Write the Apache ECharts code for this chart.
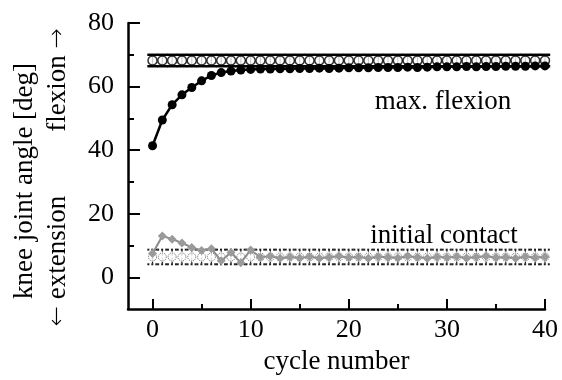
<!DOCTYPE html>
<html>
<head>
<meta charset="utf-8">
<script src="https://cdn.jsdelivr.net/npm/echarts@6/dist/echarts.min.js"></script>
<style>
  html, body { margin: 0; padding: 0; background: #fff; }
  #chart { width: 562px; height: 380px; }
</style>
</head>
<body>
<div id="chart"></div>
<script>
// cycle numbers 0..40
const cycles = [0, 1, 2, 3, 4, 5, 6, 7, 8, 9, 10, 11, 12, 13, 14, 15, 16, 17, 18, 19, 20,
  21, 22, 23, 24, 25, 26, 27, 28, 29, 30, 31, 32, 33, 34, 35, 36, 37, 38, 39, 40]

// max. flexion per cycle
const maxFlexion = [41.4, 49.5, 54.3, 57.4, 59.7, 61.8, 63.5, 64.4, 64.9, 65.2, 65.4,
  65.5, 65.5, 65.6, 65.6, 65.7, 65.7, 65.8, 65.7, 65.8, 65.9,
  65.9, 65.9, 66.0, 66.0, 66.0, 66.1, 66.0, 66.1, 66.2, 66.2,
  66.2, 66.3, 66.2, 66.3, 66.3, 66.4, 66.4, 66.4, 66.5, 66.5]

// initial contact per cycle
const initialContact = [7.5, 13.0, 12.0, 10.8, 9.4, 8.4, 9.0, 5.2, 7.8, 4.6, 8.6,
  6.3, 6.6, 6.0, 6.4, 6.1, 6.5, 6.0, 6.3, 6.6, 6.2,
  6.4, 6.0, 6.5, 6.3, 6.1, 6.6, 6.3, 6.0, 6.4, 6.2,
  6.5, 6.1, 6.4, 6.6, 6.2, 6.3, 6.0, 6.5, 6.2, 6.4]

// reference (mean, sd) drawn at every cycle
const refFlexMean = 68.2
const refFlexSd = 1.8
const refContactMean = 6.4
const refContactSd = 2.3

const xMajor = [0, 10, 20, 30, 40]
const xMinor = [5, 15, 25, 35]
const yMajor = [0, 20, 40, 60, 80]
const yMinor = [10, 30, 50, 70]

const font = 'Liberation Serif'

const chart = echarts.init(document.getElementById('chart'))

const bandRenderer = (color, width, dash) => (params, api) => {
	const x = api.value(0)
	const m = api.value(1)
	const s = api.value(2)
	const top = api.coord([x, m + s])
	const bot = api.coord([x, m - s])
	const w = 5.2
	const style = { stroke: color, lineWidth: 1.2, lineDash: dash, fill: null }
	const capStyle = { stroke: color, lineWidth: width, lineDash: dash, fill: null }
	return {
		type: 'group',
		children: [
			{ type: 'line', shape: { x1: top[0], y1: top[1], x2: bot[0], y2: bot[1] }, style },
			{ type: 'line', shape: { x1: top[0] - w, y1: top[1], x2: top[0] + w, y2: top[1] }, style: capStyle },
			{ type: 'line', shape: { x1: bot[0] - w, y1: bot[1], x2: bot[0] + w, y2: bot[1] }, style: capStyle },
		],
	}
}

const axisText = { fontFamily: font, fontSize: 26, color: '#000' }
const titleFont = `27px "${font}"`
const arrowRich = { a: { fontFamily: 'DejaVu Sans', fontSize: 24, fontWeight: 'lighter', color: '#000' } }

const option = {
	animation: false,
	backgroundColor: '#fff',
	grid: { left: 128, right: 17, top: 23, bottom: 65 },
	xAxis: [
		{
			type: 'value',
			min: -2.5,
			max: 40,
			position: 'bottom',
			axisLine: { show: true, onZero: false, lineStyle: { color: '#000', width: 2.5 } },
			axisTick: { show: true, inside: true, length: 10, lineStyle: { color: '#000', width: 2 }, customValues: xMajor },
			axisLabel: { ...axisText, margin: 8, customValues: xMajor },
			splitLine: { show: false },
			name: 'cycle number',
			nameLocation: 'middle',
			nameGap: 38,
			nameTextStyle: { fontFamily: font, fontSize: 27, color: '#000' },
		},
		{
			type: 'value',
			min: -2.5,
			max: 40,
			position: 'bottom',
			axisLine: { show: false, onZero: false },
			axisTick: { show: true, inside: true, length: 5, lineStyle: { color: '#000', width: 2 }, customValues: xMinor },
			axisLabel: { show: false },
			splitLine: { show: false },
		},
	],
	yAxis: [
		{
			type: 'value',
			min: -10,
			max: 80,
			interval: 10,
			position: 'left',
			axisLine: { show: true, onZero: false, lineStyle: { color: '#000', width: 2.5 } },
			axisTick: { show: true, inside: true, length: 12, lineStyle: { color: '#000', width: 2 }, customValues: yMajor },
			axisLabel: { ...axisText, margin: 14, customValues: yMajor },
			splitLine: { show: false },
		},
		{
			type: 'value',
			min: -10,
			max: 80,
			interval: 10,
			position: 'left',
			axisLine: { show: false, onZero: false },
			axisTick: { show: true, inside: true, length: 6, lineStyle: { color: '#000', width: 2 }, customValues: yMinor },
			axisLabel: { show: false },
			splitLine: { show: false },
		},
	],
	graphic: [
		{ type: 'text', x: 25, y: 181, rotation: Math.PI / 2, style: { text: 'knee joint angle [deg]', font: titleFont, fill: '#000', align: 'center', verticalAlign: 'middle' } },
		{ type: 'text', x: 58, y: 80, rotation: Math.PI / 2, style: { text: 'flexion {a|\u2192}', font: titleFont, fill: '#000', align: 'center', verticalAlign: 'middle', rich: arrowRich } },
		{ type: 'text', x: 58, y: 261, rotation: Math.PI / 2, style: { text: '{a|\u2190} extension', font: titleFont, fill: '#000', align: 'center', verticalAlign: 'middle', rich: arrowRich } },
		{ type: 'text', x: 443, y: 102, style: { text: 'max. flexion', font: titleFont, fill: '#000', align: 'center', verticalAlign: 'middle' } },
		{ type: 'text', x: 444, y: 236, style: { text: 'initial contact', font: titleFont, fill: '#000', align: 'center', verticalAlign: 'middle' } },
	],
	series: [
		{
			type: 'custom',
			renderItem: bandRenderer('#000', 2.5, null),
			data: cycles.map((c) => [c, refFlexMean, refFlexSd]),
			z: 1,
		},
		{
			type: 'scatter',
			symbol: 'circle',
			symbolSize: 9,
			itemStyle: { color: '#fff', borderColor: '#000', borderWidth: 1.5 },
			data: cycles.map((c) => [c, refFlexMean]),
			z: 2,
		},
		{
			type: 'custom',
			renderItem: bandRenderer('#222', 2, [2, 2]),
			data: cycles.map((c) => [c, refContactMean, refContactSd]),
			z: 1,
		},
		{
			type: 'scatter',
			symbol: 'circle',
			symbolSize: 8,
			itemStyle: { color: '#fff', borderColor: '#444', borderWidth: 1, borderType: 'dotted' },
			data: cycles.map((c) => [c, refContactMean]),
			z: 2,
		},
		{
			type: 'line',
			data: cycles.map((c, i) => [c, maxFlexion[i]]),
			symbol: 'circle',
			symbolSize: 9,
			showAllSymbol: true,
			lineStyle: { color: '#000', width: 2.5 },
			itemStyle: { color: '#000' },
			z: 5,
		},
		{
			type: 'line',
			data: cycles.map((c, i) => [c, initialContact[i]]),
			symbol: 'diamond',
			symbolSize: 9,
			showAllSymbol: true,
			lineStyle: { color: '#8c8c8c', width: 2 },
			itemStyle: { color: '#9a9a9a' },
			z: 5,
		},
	],
}

chart.setOption(option)
</script>
</body>
</html>
